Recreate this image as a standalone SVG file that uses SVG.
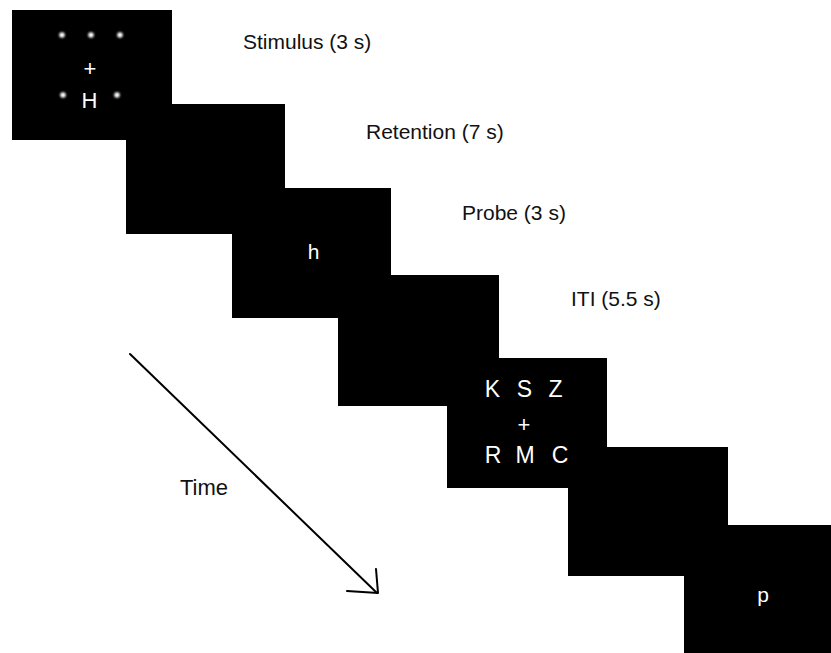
<svg xmlns="http://www.w3.org/2000/svg" width="831" height="653" viewBox="0 0 831 653">
  <defs>
    <filter id="glow" x="-100%" y="-100%" width="300%" height="300%">
      <feGaussianBlur stdDeviation="0.8"/>
    </filter>
  </defs>
  <style>
    .screen { fill: #000000; }
    .lbl { font-family: "Liberation Sans", Arial, sans-serif; font-size: 21px; fill: #111111; }
    .stim { font-family: "Liberation Sans", Arial, sans-serif; font-size: 22px; fill: #ffffff; text-anchor: middle; }
    .star { fill: #ffffff; filter: url(#glow); }
    .arrow { fill: none; stroke: #000000; stroke-width: 2; stroke-linecap: round; stroke-linejoin: round; }
  </style>
  <rect width="831" height="653" fill="#ffffff"/>

  <g id="screen1">
    <rect class="screen" x="12" y="10" width="160" height="130"/>
    <circle class="star" cx="62" cy="35" r="2.8"/>
    <circle class="star" cx="91" cy="35" r="2.8"/>
    <circle class="star" cx="120" cy="35" r="2.8"/>
    <circle class="star" cx="63" cy="95" r="2.8"/>
    <circle class="star" cx="117" cy="95" r="2.8"/>
    <text class="stim" x="90" y="75.8">+</text>
    <text class="stim" x="89.5" y="108">H</text>
  </g>
  <g id="screen2">
    <rect class="screen" x="126" y="104" width="159" height="130"/>
  </g>
  <g id="screen3">
    <rect class="screen" x="232" y="188" width="159" height="130"/>
    <text class="stim" x="313.5" y="259" style="font-size:21px">h</text>
  </g>
  <g id="screen4">
    <rect class="screen" x="338" y="275" width="161" height="131"/>
  </g>
  <g id="screen5">
    <rect class="screen" x="447" y="358" width="160" height="130"/>
    <text class="stim" x="492.5" y="397" style="font-size:23px">K</text>
    <text class="stim" x="524.5" y="397" style="font-size:23px">S</text>
    <text class="stim" x="555.5" y="397" style="font-size:23px">Z</text>
    <text class="stim" x="524" y="431.5">+</text>
    <text class="stim" x="493" y="463" style="font-size:23px">R</text>
    <text class="stim" x="525" y="463" style="font-size:23px">M</text>
    <text class="stim" x="560" y="463" style="font-size:23px">C</text>
  </g>
  <g id="screen6">
    <rect class="screen" x="568" y="447" width="160" height="129"/>
  </g>
  <g id="screen7">
    <rect class="screen" x="684" y="525" width="160" height="130"/>
    <text class="stim" x="763" y="602" style="font-size:21px">p</text>
  </g>

  <g id="labels">
    <text class="lbl" x="243" y="49">Stimulus (3 s)</text>
    <text class="lbl" x="366" y="139">Retention (7 s)</text>
    <text class="lbl" x="462" y="220">Probe (3 s)</text>
    <text class="lbl" x="571" y="306">ITI (5.5 s)</text>
    <text class="lbl" x="180" y="495" style="font-size:22px">Time</text>
  </g>

  <g id="connectors">
    <path class="arrow" d="M130,354 L377,593"/>
    <path class="arrow" d="M347,591 L378,593 L376,569"/>
  </g>
</svg>
